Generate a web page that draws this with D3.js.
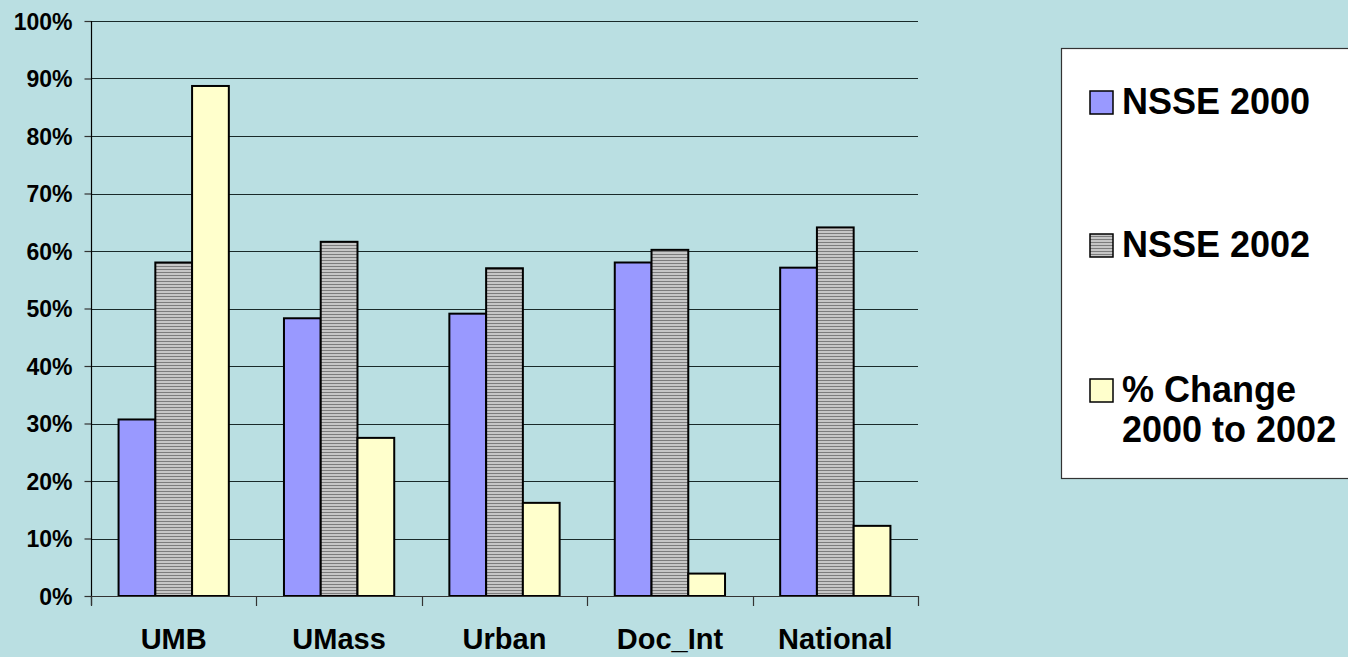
<!DOCTYPE html>
<html>
<head>
<meta charset="utf-8">
<script src="https://cdn.jsdelivr.net/npm/d3@7"></script>
<style>
  html, body { margin: 0; padding: 0; background: #badfe2; }
  svg { display: block; }
  text { font-family: Arial, "Liberation Sans", sans-serif; font-weight: bold; fill: #000; }
</style>
</head>
<body>
<svg id="chart" width="1348" height="657"></svg>
<script>
const categories = ["UMB", "UMass", "Urban", "Doc_Int", "National"];
const seriesNames = ["NSSE 2000", "NSSE 2002", "% Change 2000 to 2002"];
const nsse2000 = [30.7, 48.3, 49.1, 58.0, 57.1];
const nsse2002 = [58.0, 61.6, 57.0, 60.2, 64.1];
const pctChange = [88.7, 27.5, 16.2, 3.9, 12.2];
const yTicks = [0, 10, 20, 30, 40, 50, 60, 70, 80, 90, 100];

const seriesValues = [nsse2000, nsse2002, pctChange];

const svg = d3.select("#chart");
const W = 1348, H = 657;

// background
svg.append("rect").attr("width", W).attr("height", H).attr("fill", "#badfe2");

// pattern for NSSE 2002
const defs = svg.append("defs");
const pat = defs.append("pattern").attr("id", "stripes")
  .attr("patternUnits", "userSpaceOnUse").attr("width", 6).attr("height", 3);
pat.append("rect").attr("width", 6).attr("height", 3).attr("fill", "#c6c6c6");
pat.append("rect").attr("y", 2).attr("width", 6).attr("height", 1).attr("fill", "#7c7c7c");

const fills = ["#9999ff", "url(#stripes)", "#ffffcc"];
const legendSwatchFills = ["#9999ff", "url(#stripes)", "#ffffcc"];

const plot = { left: 91, right: 918, top: 21, bottom: 596 };

const y = d3.scaleLinear().domain([0, 100]).range([plot.bottom, plot.top]);
const x0 = d3.scaleBand().domain(categories).range([plot.left, plot.right]).padding(0);
const x1 = d3.scaleBand().domain(d3.range(seriesNames.length))
  .range([0, x0.bandwidth()]).paddingInner(0).paddingOuter(0.75);

// gridlines
svg.append("g").selectAll("line").data(yTicks.filter(d => d > 0)).join("line")
  .attr("x1", plot.left).attr("x2", plot.right)
  .attr("y1", d => Math.round(y(d)) + 0.5).attr("y2", d => Math.round(y(d)) + 0.5)
  .attr("stroke", "#1a2a2a").attr("stroke-width", 1.2);

// Y axis
const yAxis = d3.axisLeft(y).tickValues(yTicks).tickSize(7).tickPadding(12)
  .tickFormat(d => d + "%");
const gy = svg.append("g").attr("transform", `translate(${plot.left + 0.5},0)`).call(yAxis);
gy.select(".domain").remove();
gy.selectAll(".tick line").attr("stroke", "#333").attr("stroke-width", 1.2);
gy.selectAll(".tick text").style("font-size", "23px").attr("dy", "0.36em");
svg.append("line").attr("x1", plot.left + 0.5).attr("x2", plot.left + 0.5)
  .attr("y1", plot.top).attr("y2", plot.bottom + 9).attr("stroke", "#000").attr("stroke-width", 1.2);

// bars
const groups = svg.append("g").selectAll("g").data(categories).join("g")
  .attr("transform", d => `translate(${x0(d)},0)`);
groups.selectAll("rect")
  .data((c, i) => seriesValues.map((vals, s) => ({ s, v: vals[i] })))
  .join("rect")
  .attr("x", d => x1(d.s))
  .attr("width", x1.bandwidth())
  .attr("y", d => y(d.v))
  .attr("height", d => y(0) - y(d.v))
  .attr("fill", d => fills[d.s])
  .attr("stroke", "#000").attr("stroke-width", 2);

// X axis
const xTickPositions = categories.map(c => x0(c)).concat([plot.right]);
svg.append("line").attr("x1", plot.left).attr("x2", plot.right)
  .attr("y1", plot.bottom + 0.5).attr("y2", plot.bottom + 0.5)
  .attr("stroke", "#333").attr("stroke-width", 1.2);
svg.append("g").selectAll("line").data(xTickPositions).join("line")
  .attr("x1", d => Math.round(d) + 0.5).attr("x2", d => Math.round(d) + 0.5)
  .attr("y1", plot.bottom).attr("y2", plot.bottom + 10)
  .attr("stroke", "#333").attr("stroke-width", 1.2);
svg.append("g").selectAll("text").data(categories).join("text")
  .attr("x", d => x0(d) + x0.bandwidth() / 2)
  .attr("y", 649)
  .attr("text-anchor", "middle")
  .style("font-size", "29px")
  .text(d => d);

// legend
const lg = svg.append("g");
lg.append("rect").attr("x", 1061.5).attr("y", 48.5).attr("width", 320).attr("height", 430)
  .attr("fill", "#fff").attr("stroke", "#333").attr("stroke-width", 1.2);
const legendRows = [
  { lines: ["NSSE 2000"], base: 114 },
  { lines: ["NSSE 2002"], base: 257 },
  { lines: ["% Change", "2000 to 2002"], base: 402 }
];
legendRows.forEach((r, i) => {
  lg.append("rect").attr("x", 1090).attr("y", r.base - 23).attr("width", 23).attr("height", 23)
    .attr("fill", legendSwatchFills[i]).attr("stroke", "#000").attr("stroke-width", 1.5);
  const t = lg.append("text").attr("x", 1122).attr("y", r.base).style("font-size", "36px");
  r.lines.forEach((ln, j) => {
    t.append("tspan").attr("x", 1122).attr("dy", j === 0 ? 0 : 40).text(ln);
  });
});
</script>
</body>
</html>
